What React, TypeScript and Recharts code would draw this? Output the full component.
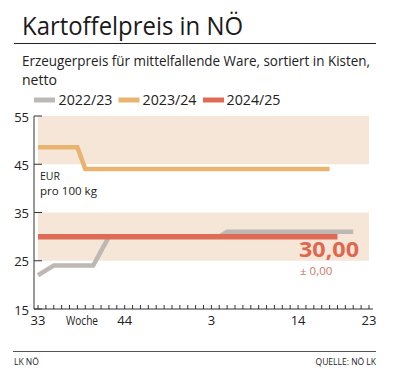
import { LineChart, Line, XAxis, YAxis, ReferenceArea } from "recharts";

const WEEKS = [
  "33", "34", "35", "36", "37", "38", "39", "40", "41", "42", "43", "44", "45", "46", "47",
  "48", "49", "50", "51", "52", "1", "2", "3", "4", "5", "6", "7", "8", "9", "10", "11",
  "12", "13", "14", "15", "16", "17", "18", "19", "20", "21", "22", "23",
];

const LABELED_WEEKS = ["33", "44", "3", "14", "23"];

const PRICE_2022_23 = [
  22, 23, 24, 24, 24, 24, 24, 24, 27, 30, 30, 30, 30, 30, 30, 30, 30, 30, 30, 30, 30, 30,
  30, 30, 31, 31, 31, 31, 31, 31, 31, 31, 31, 31, 31, 31, 31, 31, 31, 31, 31, null, null,
];

const PRICE_2023_24 = [
  48.5, 48.5, 48.5, 48.5, 48.5, 48.5, 44, 44, 44, 44, 44, 44, 44, 44, 44, 44, 44, 44, 44,
  44, 44, 44, 44, 44, 44, 44, 44, 44, 44, 44, 44, 44, 44, 44, 44, 44, 44, 44, null, null,
  null, null, null,
];

const PRICE_2024_25 = [
  30, 30, 30, 30, 30, 30, 30, 30, 30, 30, 30, 30, 30, 30, 30, 30, 30, 30, 30, 30, 30, 30,
  30, 30, 30, 30, 30, 30, 30, 30, 30, 30, 30, 30, 30, 30, 30, 30, 30, null, null, null, null,
];

const Y_TICKS = [15, 25, 35, 45, 55];
const BANDS = [
  [45, 55],
  [25, 35],
];

const SERIES = [
  { key: "s2223", name: "2022/23", color: "#bdb8b4", width: 4.5 },
  { key: "s2324", name: "2023/24", color: "#e8b46f", width: 4.5 },
  { key: "s2425", name: "2024/25", color: "#df6b56", width: 5.5 },
];

const data = WEEKS.map((week, i) => ({
  week,
  s2223: PRICE_2022_23[i],
  s2324: PRICE_2023_24[i],
  s2425: PRICE_2024_25[i],
}));

const FONT = "'Open Sans', sans-serif";

const WeekTick = (props: any) => {
  const { x, y, payload } = props;
  const show = LABELED_WEEKS.includes(payload.value);
  return (
    <g>
      <line x1={x} x2={x} y1={y} y2={y - 4} stroke="#333" strokeWidth={1} />
      {show && (
        <text x={x} y={y + 16} textAnchor="middle" fontSize={13} fill="#222" fontFamily={FONT}>
          {payload.value}
        </text>
      )}
    </g>
  );
};

const PriceTick = (props: any) => {
  const { x, y, payload } = props;
  return (
    <g>
      <line x1={x} x2={x + 8} y1={y} y2={y} stroke="#333" strokeWidth={1} />
      <text x={x - 5} y={y + 5.5} textAnchor="end" fontSize={13} fill="#222" fontFamily={FONT}>
        {payload.value}
      </text>
    </g>
  );
};

export default function App() {
  const last = PRICE_2024_25.filter((v) => v != null);
  const current = last[last.length - 1] as number;
  const prev = last[last.length - 2] as number;
  const diff = current - prev;

  return (
    <div style={{ position: "absolute", left: 0, top: 0, width: 399, height: 381, background: "#fff" }}>
      <svg width={399} height={381} style={{ position: "absolute", left: 0, top: 0 }}>
        <text x={22} y={35} fontSize={26} fill="#1a1a1a" fontFamily={FONT} textLength={221} lengthAdjust="spacingAndGlyphs">
          Kartoffelpreis in NÖ
        </text>
        <line x1={14} x2={376} y1={43.5} y2={43.5} stroke="#222" strokeWidth={1} />
        <text x={22} y={66} fontSize={14.5} fill="#222" fontFamily={FONT} textLength={348} lengthAdjust="spacingAndGlyphs">
          Erzeugerpreis für mittelfallende Ware, sortiert in Kisten,
        </text>
        <text x={22} y={85} fontSize={14.5} fill="#222" fontFamily={FONT} textLength={35} lengthAdjust="spacingAndGlyphs">
          netto
        </text>
        {SERIES.map((s, i) => (
          <g key={s.key}>
            <rect x={34 + i * 84.5} y={97.5} width={21} height={5} fill={s.color} />
            <text x={58.5 + i * 84} y={105} fontSize={14} fill="#222" fontFamily={FONT} textLength={54} lengthAdjust="spacingAndGlyphs">
              {s.name}
            </text>
          </g>
        ))}
        <text x={40} y={180} fontSize={11.5} fill="#222" fontFamily={FONT} textLength={20} lengthAdjust="spacingAndGlyphs">EUR</text>
        <text x={40} y={195} fontSize={11.5} fill="#222" fontFamily={FONT} textLength={57} lengthAdjust="spacingAndGlyphs">pro 100 kg</text>
        <text x={82} y={325} textAnchor="middle" fontSize={12.5} fill="#222" fontFamily={FONT} textLength={32} lengthAdjust="spacingAndGlyphs">
          Woche
        </text>
        <line x1={13} x2={376} y1={351.5} y2={351.5} stroke="#555" strokeWidth={1} />
        <text x={14} y={365} fontSize={8.5} fill="#222" fontFamily={FONT}>LK NÖ</text>
        <text x={376} y={365} textAnchor="end" fontSize={8.5} fill="#222" fontFamily={FONT}>
          QUELLE: NÖ LK
        </text>
      </svg>
      <div style={{ position: "absolute", left: 0, top: 0 }}>
        <LineChart width={399} height={381} data={data} margin={{ top: 116, right: 26, bottom: 42, left: 0 }}>
          {BANDS.map(([y1, y2]) => (
            <ReferenceArea key={y1} y1={y1} y2={y2} fill="#f5e6d8" fillOpacity={1} stroke="none" ifOverflow="hidden" />
          ))}
          <XAxis
            dataKey="week"
            interval={0}
            tickSize={0}
            tickMargin={0}
            height={30}
            padding={{ left: 4, right: 4 }}
            axisLine={{ stroke: "#333" }}
            tick={<WeekTick />}
          />
          <YAxis
            domain={[15, 55]}
            ticks={Y_TICKS}
            width={34}
            tickSize={0}
            tickMargin={0}
            axisLine={{ stroke: "#333" }}
            tick={<PriceTick />}
          />
          {SERIES.map((s) => (
            <Line
              key={s.key}
              dataKey={s.key}
              name={s.name}
              type="linear"
              stroke={s.color}
              strokeWidth={s.width}
              strokeLinecap="butt"
              dot={false}
              activeDot={false}
              isAnimationActive={false}
            />
          ))}
        </LineChart>
      </div>
      <svg width={399} height={381} style={{ position: "absolute", left: 0, top: 0, pointerEvents: "none" }}>
        <text x={299} y={257} fontSize={22} fontWeight={700} fill="#e0674f" fontFamily={FONT} textLength={60} lengthAdjust="spacingAndGlyphs">
          {current.toFixed(2).replace(".", ",")}
        </text>
        <text x={300} y={275} fontSize={11.5} fill="#c97a66" fontFamily={FONT}>
          ± {Math.abs(diff).toFixed(2).replace(".", ",")}
        </text>
      </svg>
    </div>
  );
}
